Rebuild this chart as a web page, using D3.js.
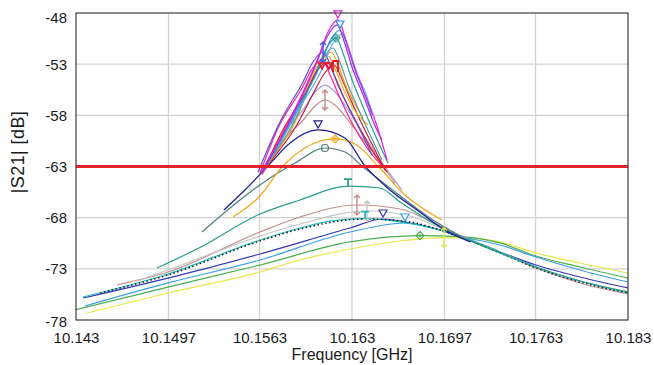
<!DOCTYPE html>
<html><head><meta charset="utf-8">
<script src="https://cdn.jsdelivr.net/npm/d3@7"></script>
<style>
html,body{margin:0;padding:0;background:#fff;}
svg{display:block;font-family:"Liberation Sans",Arial,sans-serif;}
</style></head><body>
<svg id="c" width="654" height="365"></svg>
<script>
// ---------- axis ticks ----------
const freqTicks = [10.143, 10.1497, 10.1563, 10.163, 10.1697, 10.1763, 10.183];
const freqLabels = ["10.143","10.1497","10.1563","10.163","10.1697","10.1763","10.183"];
const dbTicks = [-48,-53,-58,-63,-68,-73,-78];
const dbLabels = ["-48","-53","-58","-63","-68","-73","-78"];
const thresholdDb = -63;

// ---------- low-Q traces [GHz, dB] ----------
const yellowTrace = [[10.1438,-77.32],[10.14967,-75.36],[10.15633,-73.31],[10.15923,-72.14],[10.16285,-71.06],[10.16648,-70.28],[10.16967,-69.95],[10.17155,-69.99],[10.17372,-70.37],[10.17633,-71.45],[10.17952,-72.43],[10.183,-73.41]];
const greenTrace = [[10.14293,-77.02],[10.14967,-74.78],[10.15633,-72.63],[10.16285,-70.37],[10.16793,-69.75],[10.17082,-69.85],[10.17372,-70.47],[10.17633,-71.75],[10.17952,-72.82],[10.183,-73.90]];
const lightBlueTrace = [[10.14365,-76.63],[10.14967,-74.38],[10.15633,-72.14],[10.16285,-69.40],[10.16684,-68.52],[10.16938,-69.21],[10.17082,-69.80],[10.17372,-70.67],[10.17633,-71.84],[10.17952,-73.11],[10.183,-74.29]];
const navyLowTrace = [[10.14351,-75.85],[10.14967,-73.90],[10.15633,-71.55],[10.16285,-69.01],[10.16525,-68.13],[10.1672,-68.52],[10.16938,-69.21],[10.17082,-69.89],[10.17372,-71.35],[10.17633,-72.63],[10.17952,-73.80],[10.183,-74.87]];
const cyanTrace = [[10.14351,-75.75],[10.14967,-73.50],[10.15633,-70.18],[10.15923,-69.01],[10.16141,-68.33],[10.16394,-68.10],[10.16648,-68.42],[10.16938,-69.21],[10.17082,-69.80],[10.17372,-71.35],[10.17633,-72.82],[10.17952,-74.19],[10.183,-75.36]];
const blackDotTrace = [[10.14474,-75.36],[10.14967,-73.60],[10.15633,-70.28],[10.15923,-69.11],[10.16394,-68.13],[10.1672,-68.42],[10.16938,-69.21],[10.17082,-69.89],[10.17372,-71.45],[10.17633,-72.92],[10.17952,-74.29],[10.183,-75.36]];
const silverTrace = [[10.14742,-74.19],[10.14967,-73.11],[10.15633,-69.80],[10.15923,-68.62],[10.16409,-67.35],[10.1672,-67.84],[10.16938,-69.01],[10.17082,-69.80],[10.17372,-71.35],[10.17633,-72.82],[10.17952,-74.19],[10.183,-75.26]];
const rosyLowTrace = [[10.14597,-74.58],[10.14967,-73.31],[10.15633,-69.40],[10.15923,-67.93],[10.16336,-66.76],[10.16648,-67.15],[10.16938,-68.81],[10.17082,-69.70],[10.17372,-71.35],[10.17633,-72.92],[10.17952,-74.38],[10.183,-75.46]];
const tealLowTrace = [[10.14887,-72.92],[10.15191,-70.96],[10.15633,-67.64],[10.15923,-66.27],[10.16271,-64.91],[10.16503,-65.10],[10.16648,-66.47],[10.16938,-68.91],[10.17082,-69.80],[10.17372,-71.45],[10.17633,-72.82],[10.17952,-74.19],[10.183,-75.26]];

// ---------- medium-Q traces ----------
const slateMidTrace = [[10.15213,-69.40],[10.15488,-66.27],[10.15706,-64.12],[10.15887,-62.66],[10.16104,-61.19],[10.16249,-61.58],[10.16372,-62.95],[10.16575,-65.10],[10.16865,-68.03],[10.17082,-69.80]];
const orangeMidTrace = [[10.15438,-67.93],[10.15633,-65.88],[10.15793,-63.05],[10.15959,-61.19],[10.16177,-60.31],[10.16322,-60.80],[10.16488,-62.95],[10.16684,-65.79],[10.16952,-68.23]];
const navyMidTrace = [[10.15372,-67.25],[10.15524,-65.30],[10.15691,-62.95],[10.15851,-60.70],[10.16054,-59.43],[10.16249,-60.22],[10.16394,-62.95],[10.16575,-65.30],[10.16771,-67.25],[10.16974,-69.21],[10.17155,-70.37]];

// ---------- high-Q traces ----------
const rosyTrace = [[10.15648,-63.83],[10.15793,-60.61],[10.15959,-58.26],[10.16032,-57.09],[10.16104,-56.50],[10.16177,-56.99],[10.16271,-58.46],[10.16372,-60.22],[10.16503,-62.56],[10.16611,-64.61]];
const lavenderTrace = [[10.15648,-63.64],[10.15793,-60.02],[10.15959,-57.19],[10.16032,-55.72],[10.16104,-55.04],[10.16177,-55.72],[10.16271,-57.48],[10.16372,-59.63],[10.16503,-62.36],[10.16662,-65.30]];
const crimsonTrace = [[10.15648,-63.64],[10.15742,-61.97],[10.15887,-59.24],[10.16025,-55.72],[10.16097,-53.96],[10.16170,-53.08],[10.16227,-54.45],[10.16285,-56.31],[10.16358,-58.46],[10.16452,-61.00],[10.16539,-63.34]];
const pinkTrace = [[10.15633,-63.64],[10.15771,-59.04],[10.15938,-55.33],[10.16010,-53.47],[10.16083,-52.59],[10.16141,-54.06],[10.16213,-56.31],[10.16300,-58.75],[10.16409,-61.19],[10.16517,-62.95]];
const goldTrace = [[10.15655,-63.54],[10.15814,-59.24],[10.15981,-55.04],[10.16054,-53.08],[10.16126,-52.20],[10.16184,-53.67],[10.16235,-55.33],[10.16307,-57.28],[10.16416,-58.94]];
const orangeTrace = [[10.15655,-63.44],[10.15742,-61.78],[10.15887,-58.65],[10.16003,-54.74],[10.16075,-52.79],[10.16148,-51.81],[10.16206,-53.28],[10.16256,-55.13],[10.16329,-57.09],[10.16380,-58.26]];
const cadetTrace = [[10.15648,-63.54],[10.15742,-61.68],[10.15887,-58.46],[10.16017,-54.45],[10.16090,-52.40],[10.16162,-51.42],[10.16220,-53.08],[10.16271,-55.04],[10.16343,-57.28],[10.16445,-60.31],[10.16517,-62.36]];
const tealTrace = [[10.15648,-63.54],[10.15742,-61.49],[10.15887,-58.07],[10.16039,-53.77],[10.16112,-51.52],[10.16184,-50.44],[10.16242,-52.20],[10.16293,-54.25],[10.16365,-56.70],[10.16467,-59.92],[10.16561,-62.66]];
const redTrace = [[10.15648,-63.64],[10.15807,-59.24],[10.15974,-55.52],[10.16046,-53.67],[10.16119,-52.79],[10.16177,-54.25],[10.16249,-56.50],[10.16343,-58.94],[10.16445,-61.39],[10.16554,-63.54]];
const violetTrace = [[10.15619,-63.54],[10.15778,-58.65],[10.15945,-54.74],[10.16017,-52.79],[10.16090,-51.81],[10.16148,-53.28],[10.16198,-55.04],[10.16271,-57.09],[10.16372,-59.82],[10.16445,-61.88]];
const skyTrace = [[10.15648,-63.54],[10.15742,-61.49],[10.15887,-57.97],[10.16083,-53.47],[10.16155,-51.13],[10.16227,-50.05],[10.16285,-51.81],[10.16336,-53.86],[10.16409,-56.21],[10.16445,-57.67]];
const blueTrace = [[10.15648,-63.54],[10.15742,-61.39],[10.15887,-57.77],[10.16068,-53.18],[10.16141,-50.74],[10.16213,-49.66],[10.16271,-51.42],[10.16322,-53.57],[10.16394,-56.01],[10.16445,-57.97]];
const purpleTrace = [[10.15648,-63.64],[10.15742,-61.29],[10.15887,-57.58],[10.16046,-52.79],[10.16119,-50.35],[10.16191,-49.17],[10.16249,-51.03],[10.16300,-53.28],[10.16372,-55.72],[10.16474,-59.24],[10.16517,-60.41]];
const magentaTrace = [[10.15633,-63.64],[10.15742,-61.19],[10.15887,-57.38],[10.16054,-52.40],[10.16126,-49.86],[10.16198,-48.68],[10.16256,-50.64],[10.16307,-52.89],[10.16380,-55.52],[10.16481,-59.04],[10.16554,-62.36]];

// ---------- drawing styles (separate from data) ----------
const seriesList = [
  {data: yellowTrace, color:'#e6e64a', marker:'bar'},
  {data: greenTrace, color:'#4caf50', marker:'diamond'},
  {data: lightBlueTrace, color:'#3a9ee4', marker:'tri'},
  {data: navyLowTrace, color:'#3636b4', marker:'tri'},
  {data: rosyLowTrace, color:'#c29090', marker:'bar'},
  {data: silverTrace, color:'#c4c4c4', marker:'bar'},
  {data: cyanTrace, color:'#22baba', marker:'T'},
  {data: blackDotTrace, color:'#111', dash:'1.5,2.5', marker:null},
  {data: tealLowTrace, color:'#2a9d8a', marker:'T'},
  {data: slateMidTrace, color:'#4d7d7d', marker:'circle'},
  {data: orangeMidTrace, color:'#f0a81c', marker:'diamond'},
  {data: navyMidTrace, color:'#1c1c90', marker:'tri'},
  {data: rosyTrace, color:'#c08a8a', marker:'bar'},
  {data: lavenderTrace, color:'#a89be6', marker:null},
  {data: crimsonTrace, color:'#c81e3c', marker:null},
  {data: pinkTrace, color:'#f0209a', marker:null},
  {data: goldTrace, color:'#e8b41e', marker:null},
  {data: orangeTrace, color:'#f5a020', marker:null},
  {data: cadetTrace, color:'#5f9a9a', marker:null},
  {data: tealTrace, color:'#2a9d8f', marker:'diamond'},
  {data: redTrace, color:'#e8141e', marker:'red'},
  {data: violetTrace, color:'#5b4fd0', marker:'bar'},
  {data: skyTrace, color:'#5fb4e6', marker:null},
  {data: blueTrace, color:'#2a8cf0', marker:'tri'},
  {data: purpleTrace, color:'#9b30d8', marker:null},
  {data: magentaTrace, color:'#e020e0', marker:'tri'}
];

const svg = d3.select('#c');
const M = {l:76, r:628, t:13, b:320};
const x = d3.scaleLinear().domain([10.143, 10.183]).range([M.l, M.r]);
const y = d3.scaleLinear().domain([-48, -78]).range([M.t, M.b]);

svg.append('rect').attr('width',654).attr('height',365).attr('fill','#fff');

// grid
const grid = svg.append('g');
grid.selectAll('line.v').data(freqTicks.slice(1,-1)).join('line')
  .attr('x1',d=>x(d)).attr('x2',d=>x(d)).attr('y1',M.t).attr('y2',M.b)
  .attr('stroke','#d2d2d2').attr('stroke-width',1.3);
grid.selectAll('line.h').data(dbTicks.slice(1,-1)).join('line')
  .attr('y1',d=>y(d)).attr('y2',d=>y(d)).attr('x1',M.l).attr('x2',M.r)
  .attr('stroke','#d2d2d2').attr('stroke-width',1.3);

// clip
svg.append('clipPath').attr('id','clip').append('rect')
  .attr('x',M.l).attr('y',M.t).attr('width',M.r-M.l).attr('height',M.b-M.t);
const plot = svg.append('g').attr('clip-path','url(#clip)');

const line = d3.line().x(d=>x(d[0])).y(d=>y(d[1])).curve(d3.curveMonotoneX);

seriesList.forEach(s=>{
  plot.append('path').attr('d', line(s.data)).attr('fill','none')
    .attr('stroke', s.color).attr('stroke-width', s.dash ? 1.4 : 1.2)
    .attr('stroke-dasharray', s.dash || null);
});

// threshold line
plot.append('line').attr('x1',M.l).attr('x2',M.r)
  .attr('y1',y(thresholdDb)).attr('y2',y(thresholdDb))
  .attr('stroke','#e8202a').attr('stroke-width',3);

// markers at each trace's peak
const mk = svg.append('g');
function drawMarker(type, cx, cy, color){
  const st = {fill:'none', stroke:color, 'stroke-width':1.2};
  const p = d => { const e = mk.append('path').attr('d', d); Object.entries(st).forEach(([k,v])=>e.attr(k,v)); return e; };
  if (type==='tri') { p(`M${cx-4},${cy-9}L${cx+4},${cy-9}L${cx},${cy-2}Z`).attr('fill','#fff'); }
  else if (type==='diamond') { p(`M${cx},${cy-4}L${cx+4},${cy}L${cx},${cy+4}L${cx-4},${cy}Z`); p(`M${cx-2},${cy}H${cx+2}M${cx},${cy-2}V${cy+2}`); }
  else if (type==='circle') { mk.append('circle').attr('cx',cx).attr('cy',cy).attr('r',3.5).attr('fill','none').attr('stroke',color).attr('stroke-width',1.2); }
  else if (type==='T') { p(`M${cx-4},${cy-7}H${cx+4}M${cx},${cy-7}V${cy}`).attr('stroke-width',1.8); }
  else if (type==='bar') { p(`M${cx},${cy-10}V${cy+10}M${cx-3},${cy-7}L${cx},${cy-10}L${cx+3},${cy-7}M${cx-3},${cy+7}L${cx},${cy+10}L${cx+3},${cy+7}`).attr('stroke-width',1.4); }
  else if (type==='red') {
    p(`M${cx-8},${cy+1}L${cx-2},${cy+1}L${cx-5},${cy+7}Z`).attr('stroke-width',1.6);
    p(`M${cx-1},${cy+1}L${cx+5},${cy+1}L${cx+2},${cy+7}Z`).attr('stroke-width',1.6);
    p(`M${cx+6},${cy+10}V${cy-1}H${cx+11}V${cy+10}`).attr('stroke-width',1.8);
  }
}
seriesList.forEach(s=>{
  if (!s.marker) return;
  const pk = d3.greatest(s.data, d=>d[1]);
  drawMarker(s.marker, x(pk[0]), y(pk[1]), s.color);
});

// frame
svg.append('rect').attr('x',M.l).attr('y',M.t).attr('width',M.r-M.l).attr('height',M.b-M.t)
  .attr('fill','none').attr('stroke','#3a3a3a').attr('stroke-width',1.2);

// axes
const xAxis = svg.append('g').attr('transform',`translate(0,${M.b})`)
  .call(d3.axisBottom(x).tickValues(freqTicks).tickFormat((d,i)=>freqLabels[i]).tickSize(0).tickPadding(12));
const yAxis = svg.append('g').attr('transform',`translate(${M.l},0)`)
  .call(d3.axisLeft(y).tickValues(dbTicks).tickFormat((d,i)=>dbLabels[i]).tickSize(0).tickPadding(9));
[xAxis,yAxis].forEach(a=>{
  a.select('.domain').remove();
  a.selectAll('text').attr('font-size',15).attr('fill','#1a1a1a')
    .attr('font-family','"Liberation Sans",Arial,sans-serif');
});
yAxis.selectAll('text').attr('dy',(d,i)=> i===0 ? '0.6em' : (i===dbTicks.length-1 ? '0.44em' : '0.34em'));

svg.append('text').attr('x',(M.l+M.r)/2).attr('y',360).attr('text-anchor','middle')
  .attr('font-size',16).attr('fill','#1a1a1a').text('Frequency [GHz]');
svg.append('text').attr('transform','translate(24,152) rotate(-90)').attr('text-anchor','middle')
  .attr('font-size',18).attr('letter-spacing','0.4px').attr('fill','#1a1a1a').text('|S21| [dB]');
</script></body></html>
